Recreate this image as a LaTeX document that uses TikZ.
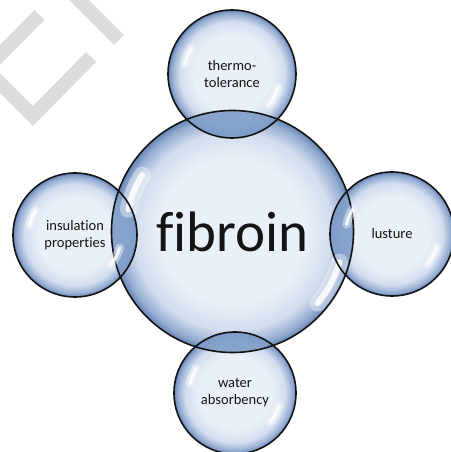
\documentclass[tikz,border=0pt]{standalone}
\usepackage{fontspec}
\setmainfont{Carlito}[Ligatures=NoCommon]
\usepackage{xcolor}
\definecolor{bubcore}{HTML}{EAF0F8}
\definecolor{bubsoft}{HTML}{D2DDEE}
\definecolor{bubmid}{HTML}{94ACD2}
\definecolor{bubedge}{HTML}{6584B4}
\definecolor{lensblue}{HTML}{7E9DC9}
\definecolor{inkdark}{HTML}{141414}
\definecolor{markgray}{HTML}{DCDCDC}
\usepackage{tikz}
\usetikzlibrary{calc}
\pgfdeclareradialshading{bubble}{\pgfpoint{0bp}{0bp}}{color(0bp)=(bubcore);
  color(15bp)=(bubcore); color(20.5bp)=(bubsoft); color(23.6bp)=(bubmid);
  color(25bp)=(bubedge); color(50bp)=(bubedge)}

\begin{document}
\begin{tikzpicture}[x=1pt, y=1pt,
    bubble/.style={circle, inner sep=0pt, shading=bubble, text=inkdark,
                   align=center, font=\fontsize{14.5}{17}\selectfont},
    rim/.style={draw=inkdark, line width=1.6pt},
    lens/.style={fill=lensblue, fill opacity=0.9},
    glow/.style={white, line cap=round, opacity=0.4},
    shine/.style={white, line cap=round, opacity=0.85},
    wmark/.style={markgray, line width=14pt}]
  \useasboundingbox (0,0) rectangle (450,452);
  % faint mark in the corner
  \draw[wmark] (69,462) -- (119,412);
  \draw[wmark] (39.5,437) -- (-14,383) -- (33,336) -- (91,395);
  % bubbles
  \node[bubble, minimum size=242pt, font=\fontsize{57}{60}\selectfont]
    (fibroin) at (232.5,220.5) {fibroin};
  \node[bubble, minimum size=128pt] (therm) at (232,378) {thermo-\\tolerance};
  \node[bubble, minimum size=124pt] (insul) at (75,217) {insulation\\properties};
  \node[bubble, minimum size=124pt] (lust) at (392,218) {lusture};
  \node[bubble, minimum size=122pt] (water) at (235,59) {water\\absorbency};
  % overlaps
  \foreach \sat/\rad in {therm/64, insul/62, lust/62, water/61} {
    \begin{scope}
      \clip (fibroin.center) circle[radius=121];
      \fill[lens] (\sat.center) circle[radius=\rad];
    \end{scope}
  }
  % outlines and highlights
  \foreach \bub/\rad/\f/\g in {fibroin/121/0.88/0.92, therm/64/0.75/0.75,
      insul/62/0.75/0.75, lust/62/0.75/0.75, water/61/0.75/0.75} {
    \draw[rim] (\bub.center) circle[radius=\rad];
    \draw[glow, line width=0.14*\rad] ($(\bub.center)+(148:{\f*\rad})$)
      arc[start angle=148, end angle=168, radius=\f*\rad];
    \draw[shine, line width=0.05*\rad] ($(\bub.center)+(148:{\f*\rad})$)
      arc[start angle=148, end angle=168, radius=\f*\rad];
    \draw[glow, line width=0.14*\rad] ($(\bub.center)+(-40:{\g*\rad})$)
      arc[start angle=-40, end angle=-16, radius=\g*\rad];
    \draw[shine, line width=0.05*\rad] ($(\bub.center)+(-40:{\g*\rad})$)
      arc[start angle=-40, end angle=-16, radius=\g*\rad];
  }
\end{tikzpicture}
\end{document}
